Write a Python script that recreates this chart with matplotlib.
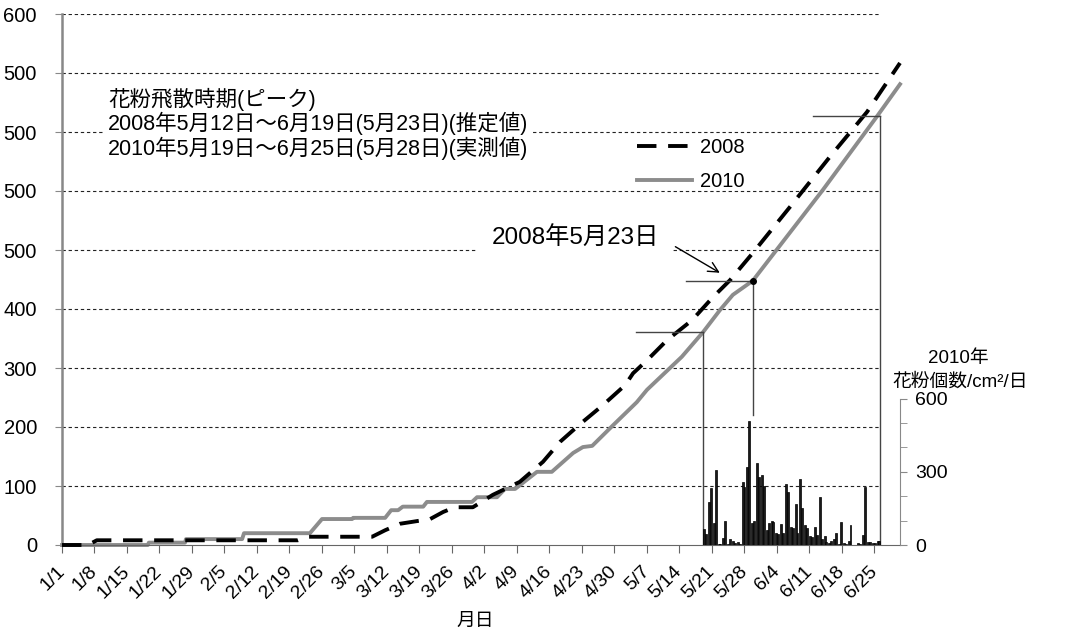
import numpy as np
import matplotlib
matplotlib.use("Agg")
import matplotlib.pyplot as plt

plt.rcParams["font.family"] = ["Liberation Sans", "Noto Sans CJK JP", "DejaVu Sans"]

# 1/1からの日数 と 積算値
d2008 = [0, 5.6, 7.5, 50.8, 53, 66.8, 69.6, 72.8, 79.3, 82.1, 84.6, 88.5, 92.8, 98.6,
         103.6, 107.3, 111.6, 116.5, 121.3, 123, 126, 130.3, 135.7, 140.2, 143.9, 148.8,
         156.8, 165.4, 173.4, 180.5]
v2008 = [0, 0, 8, 8, 14, 14, 25, 36, 44, 56, 64, 64, 85, 107,
         141, 175, 205, 237, 271, 291, 313, 347, 381, 420, 449, 495,
         573, 658, 734, 817]
d2010 = [0, 18.5, 18.7, 26.5, 26.7, 38.8, 39.2, 53.4, 56, 62.5, 62.7, 69.6, 70.9, 72.4,
         73.4, 77.8, 78.6, 88.3, 89.4, 93.7, 95.4, 97.6, 102.3, 105.5, 110.1, 112.2, 114.2,
         118.7, 123.8, 126, 133.5, 138.1, 141.7, 144.5, 148.8, 163.9, 175.5, 180.5]
v2010 = [0, 0, 4, 4, 10, 10, 20, 20, 44, 44, 46, 46, 59, 59,
         65, 65, 73, 73, 81, 81, 95, 95, 124, 124, 156, 166, 168,
         203, 242, 263, 319, 361, 398, 424, 448, 602, 726, 781]

# 2010年 飛散開始・ピーク・終了 (日数, 積算値, 縦線の下端)
mark_day = [138.1, 148.8, 176.1]
mark_val = [361, 448, 727]
mark_low = [0, 220, 0]

# 2010年 花粉個数/cm2/日 (5/19～ 1日2本)
pollen_a = [65, 177, 89, 4, 27, 5, 16, 12, 259, 318, 89, 338, 286, 61, 98, 50, 85, 248, 75,
            168, 269, 82, 38, 72, 195, 37, 10, 23, 3, 7, 18, 2, 10, 41, 14, 7, 18, 2]
pollen_b = [45, 235, 307, 4, 98, 23, 10, 5, 239, 507, 98, 280, 241, 91, 94, 45, 48, 218, 68,
            50, 150, 71, 34, 41, 23, 14, 18, 50, 95, 3, 82, 2, 5, 239, 12, 10, 18, 1]

tick_days = list(range(0, 176, 7))
tick_labels = ["1/1", "1/8", "1/15", "1/22", "1/29", "2/5", "2/12", "2/19", "2/26", "3/5",
               "3/12", "3/19", "3/26", "4/2", "4/9", "4/16", "4/23", "4/30", "5/7", "5/14",
               "5/21", "5/28", "6/4", "6/11", "6/18", "6/25"]
y_ticks = list(range(0, 901, 100))
y_labels = ["0", "100", "200", "300", "400", "500", "500", "500", "500", "600"]

W, H = 1066, 643
fig = plt.figure(figsize=(W / 100, H / 100), dpi=100)
ax = fig.add_axes([62 / W, 98 / H, 838 / W, 531 / H])
ax.set_xlim(0, 180.5); ax.set_ylim(0, 900)

ax.hlines(y_ticks[1:], 0, 176, colors="#222222", linestyles=(0, (3, 2.5)), lw=0.8, zorder=0.5)
l08, = ax.plot(d2008, v2008, color="black", lw=2.8, ls=(0, (5, 3)), zorder=3, clip_on=False)
l10, = ax.plot(d2010, v2010, color="#8c8c8c", lw=2.8, zorder=2, clip_on=False)

for d, v, lo in zip(mark_day, mark_val, mark_low):
    ax.plot([d - 14.4, d], [v, v], color="#444444", lw=1, zorder=4)
    ax.plot([d, d], [lo, v], color="#444444", lw=1, zorder=4)
ax.plot(mark_day[1], mark_val[1], "o", color="black", ms=4, zorder=5)

for s in ["top", "right"]:
    ax.spines[s].set_visible(False)
ax.spines["left"].set_color("#888888"); ax.spines["left"].set_linewidth(1.8)
ax.spines["bottom"].set_color("#666666")
ax.set_yticks(y_ticks); ax.set_yticklabels(y_labels)
ax.set_xticks(tick_days)
ax.set_xticklabels(tick_labels, rotation=45, ha="right", va="center", rotation_mode="anchor")
ax.tick_params(axis="y", length=5, color="#888888", labelsize=14.5, pad=13)
ax.tick_params(axis="x", length=6, color="#666666", labelsize=14, pad=11)

ax.text(9.9, 714, "花粉飛散時期(ピーク)\n2008年5月12日～6月19日(5月23日)(推定値)\n2010年5月19日～6月25日(5月28日)(実測値)",
        fontsize=15.5, ha="left", va="center", linespacing=1.07, zorder=6,
        bbox=dict(boxstyle="square,pad=0.2", fc="white", ec="none"))
ax.text(110.5, 520, "2008年5月23日", fontsize=17.5, ha="center", va="center", zorder=6,
        bbox=dict(boxstyle="square,pad=0.6", fc="white", ec="none"))
ax.annotate("", xy=(142.2, 459), xytext=(131.6, 508), zorder=7,
            arrowprops=dict(arrowstyle="->", color="black", lw=1, mutation_scale=18))

ax.legend(handles=[l08, l10], labels=["2008", "2010"], loc="upper left",
          bbox_to_anchor=(0.665, 0.80), frameon=False, handlelength=2.7,
          fontsize=14.5, labelspacing=0.72, handletextpad=0.4)

# 右軸: 花粉個数
ax2 = ax.twinx()
ax2.set_ylim(0, 600 * 531 / 146.4)
pos = 138.5 + 1.038 * np.arange(len(pollen_a))
ax2.bar(pos - 0.2, pollen_a, width=0.42, color="#1a1a1a", edgecolor="black", lw=0.5)
ax2.bar(pos + 0.2, pollen_b, width=0.42, color="#1a1a1a", edgecolor="black", lw=0.5)
for s in ["top", "left", "bottom"]:
    ax2.spines[s].set_visible(False)
ax2.spines["right"].set_bounds(0, 600); ax2.spines["right"].set_color("#888888")
ax2.set_yticks([0, 300, 600]); ax2.set_yticks([100, 200, 400, 500], minor=True)
ax2.tick_params(axis="y", which="both", length=5, color="#888888", labelsize=14, pad=6)

fig.text(958 / W, 1 - 358 / H, "2010年", fontsize=13.5, ha="center", va="center")
fig.text(960 / W, 1 - 382 / H, "花粉個数/cm²/日", fontsize=13.5, ha="center", va="center")
fig.text(475 / W, 1 - 621 / H, "月日", fontsize=13.5, ha="center", va="center")

fig.savefig("out.png", dpi=100)
